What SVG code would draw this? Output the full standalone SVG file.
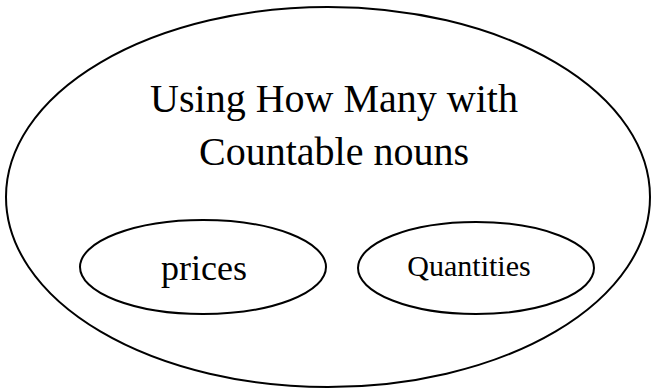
<svg xmlns="http://www.w3.org/2000/svg" width="654" height="390" viewBox="0 0 654 390">
<style>
.shape{fill:none;stroke:#000;stroke-width:2}
.t{font-family:"Liberation Serif","Times New Roman",serif;fill:#000;text-anchor:middle}
</style>
<rect width="654" height="390" fill="#fff"/>
<g id="main">
<ellipse class="shape" cx="328" cy="197" rx="322" ry="190"/>
<text class="t" x="334" y="112" font-size="40">Using How Many with</text>
<text class="t" x="334" y="165" font-size="40">Countable nouns</text>
</g>
<g id="prices">
<ellipse class="shape" cx="203" cy="267" rx="123" ry="47"/>
<text class="t" x="204" y="280" font-size="36">prices</text>
</g>
<g id="quantities">
<ellipse class="shape" cx="476" cy="268" rx="118" ry="46"/>
<text class="t" x="469" y="276" font-size="30">Quantities</text>
</g>
<g id="connectors"/>
</svg>
